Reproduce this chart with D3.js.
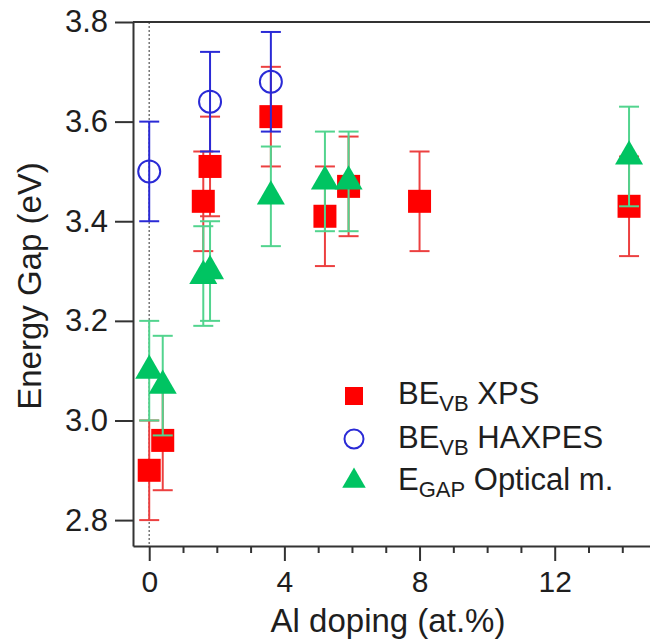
<!DOCTYPE html>
<html>
<head>
<meta charset="utf-8">
<script src="https://cdn.jsdelivr.net/npm/d3@7"></script>
<style>
  html, body { margin: 0; padding: 0; background: #fff; }
  svg { display: block; font-family: "Liberation Sans", Arial, sans-serif; }
</style>
</head>
<body>
<svg id="chart" width="650" height="642"></svg>
<script>
// Al doping (at.%) and energy gap (eV) for each technique
const xpsX = [0, 0.4, 1.6, 1.8, 3.6, 5.2, 5.9, 8.0, 14.2];
const xpsY = [2.90, 2.96, 3.44, 3.51, 3.61, 3.41, 3.47, 3.44, 3.43];
const xpsErr = [0.1, 0.1, 0.1, 0.1, 0.1, 0.1, 0.1, 0.1, 0.1];

const haxX = [0, 1.8, 3.6];
const haxY = [3.50, 3.64, 3.68];
const haxErr = [0.1, 0.1, 0.1];

const optX = [0, 0.4, 1.6, 1.8, 3.6, 5.2, 5.9, 14.2];
const optY = [3.10, 3.07, 3.29, 3.30, 3.45, 3.48, 3.48, 3.53];
const optErr = [0.1, 0.1, 0.1, 0.1, 0.1, 0.1, 0.1, 0.1];

const yTicks = [2.8, 3.0, 3.2, 3.4, 3.6, 3.8];
const xMajorTicks = [0, 4, 8, 12];
const xMinorTicks = [1, 2, 3, 5, 6, 7, 9, 10, 11, 13, 14];

const svg = d3.select("#chart");
const L = 133, R = 650, T = 22, B = 546;
const axisColor = "#333";
const textColor = "#1e1e1e";

const x = d3.scaleLinear().domain([-0.48, 14.82]).range([L, R]);
const y = d3.scaleLinear().domain([2.748, 3.8]).range([B, T]);

// zero-doping reference line
svg.append("line")
  .attr("x1", x(0)).attr("x2", x(0)).attr("y1", T).attr("y2", B)
  .attr("stroke", "#777").attr("stroke-width", 1.5).attr("stroke-dasharray", "2,2");

// frame: top line
svg.append("line").attr("x1", L).attr("x2", R).attr("y1", T).attr("y2", T)
  .attr("stroke", axisColor).attr("stroke-width", 2);

// y axis
const yAxis = d3.axisLeft(y).tickValues(yTicks).tickFormat(d3.format(".1f"))
  .tickSizeInner(18).tickSizeOuter(0).tickPadding(7);
const gy = svg.append("g").attr("transform", `translate(${L},0)`).call(yAxis);
gy.select(".domain").attr("stroke", axisColor).attr("stroke-width", 2);
gy.selectAll(".tick line").attr("stroke", axisColor).attr("stroke-width", 2);
gy.selectAll(".tick text").attr("fill", textColor).attr("font-size", 31)
  .attr("font-family", "Liberation Sans, Arial, sans-serif");

// x axis: minor then major ticks
const gxMinor = svg.append("g").attr("transform", `translate(0,${B})`)
  .call(d3.axisBottom(x).tickValues(xMinorTicks).tickSize(7).tickFormat(""));
gxMinor.select(".domain").remove();
gxMinor.selectAll(".tick line").attr("stroke", axisColor).attr("stroke-width", 2);

const gx = svg.append("g").attr("transform", `translate(0,${B})`)
  .call(d3.axisBottom(x).tickValues(xMajorTicks).tickFormat(d3.format("d"))
    .tickSizeInner(15).tickSizeOuter(0).tickPadding(10));
gx.select(".domain").attr("stroke", axisColor).attr("stroke-width", 2);
gx.selectAll(".tick line").attr("stroke", axisColor).attr("stroke-width", 2);
gx.selectAll(".tick text").attr("fill", textColor).attr("font-size", 30)
  .attr("font-family", "Liberation Sans, Arial, sans-serif");

// axis titles
svg.append("text").attr("x", 388).attr("y", 632).attr("text-anchor", "middle")
  .attr("font-size", 33).attr("fill", textColor).text("Al doping (at.%)");
svg.append("text").attr("transform", "translate(41,286) rotate(-90)")
  .attr("text-anchor", "middle").attr("font-size", 33).attr("fill", textColor)
  .text("Energy Gap (eV)");

// error bars
function errorBars(xs, ys, es, color) {
  const g = svg.append("g").attr("stroke", color).attr("stroke-width", 2).attr("fill", "none");
  const cap = 10;
  xs.forEach((xv, i) => {
    const cx = x(xv), y0 = y(ys[i] - es[i]), y1 = y(ys[i] + es[i]);
    g.append("line").attr("x1", cx).attr("x2", cx).attr("y1", y0).attr("y2", y1);
    g.append("line").attr("x1", cx - cap).attr("x2", cx + cap).attr("y1", y0).attr("y2", y0);
    g.append("line").attr("x1", cx - cap).attr("x2", cx + cap).attr("y1", y1).attr("y2", y1);
  });
}

const red = "#ff0000", redErr = "#ec4040";
const blue = "#2a2ad6";
const green = "#00c462", greenErr = "#52d48e";

// XPS: filled squares
errorBars(xpsX, xpsY, xpsErr, redErr);
svg.append("g").selectAll("rect").data(xpsX).join("rect")
  .attr("x", (d) => x(d) - 11.5).attr("y", (d, i) => y(xpsY[i]) - 11.5)
  .attr("width", 23).attr("height", 23).attr("fill", red);

// HAXPES: open circles
errorBars(haxX, haxY, haxErr, blue);
svg.append("g").selectAll("circle").data(haxX).join("circle")
  .attr("cx", (d) => x(d)).attr("cy", (d, i) => y(haxY[i])).attr("r", 11)
  .attr("fill", "none").attr("stroke", blue).attr("stroke-width", 2);

// Optical: filled triangles
errorBars(optX, optY, optErr, greenErr);
const tri = d3.symbol().type(d3.symbolTriangle).size(340);
svg.append("g").selectAll("path").data(optX).join("path")
  .attr("transform", (d, i) => `translate(${x(d)},${y(optY[i])})`)
  .attr("d", tri).attr("fill", green);

// legend
const lg = svg.append("g");
const lx = 354;
lg.append("rect").attr("x", lx - 9).attr("y", 396 - 9).attr("width", 18).attr("height", 18).attr("fill", red);
lg.append("circle").attr("cx", lx).attr("cy", 439).attr("r", 9.5)
  .attr("fill", "none").attr("stroke", blue).attr("stroke-width", 2);
lg.append("path").attr("transform", `translate(${lx},481)`)
  .attr("d", d3.symbol().type(d3.symbolTriangle).size(240)).attr("fill", green);

const entries = [
  { main: "BE", sub: "VB", rest: " XPS", y: 404 },
  { main: "BE", sub: "VB", rest: " HAXPES", y: 448 },
  { main: "E", sub: "GAP", rest: " Optical m.", y: 490 }
];
entries.forEach((e) => {
  const t = lg.append("text").attr("x", 398).attr("y", e.y)
    .attr("font-size", 31).attr("fill", textColor);
  t.append("tspan").text(e.main);
  t.append("tspan").attr("font-size", 22).attr("dy", 7).text(e.sub);
  t.append("tspan").attr("dy", -7).text(e.rest);
});
</script>
</body>
</html>
